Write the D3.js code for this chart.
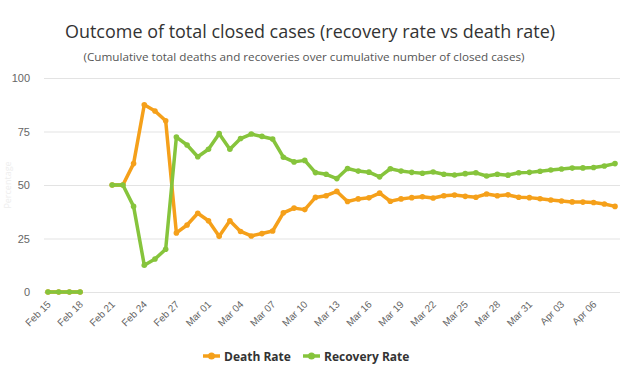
<!DOCTYPE html>
<html><head><meta charset="utf-8">
<script src="https://cdn.jsdelivr.net/npm/d3@7"></script>
<style>body{margin:0;background:#fff;}svg{display:block;font-family:"Open Sans",Lato,sans-serif;}</style>
</head><body>
<svg id="chart" width="635" height="374"></svg>
<script>
const dates = ["2020-02-15","2020-02-16","2020-02-17","2020-02-18","2020-02-19","2020-02-20","2020-02-21","2020-02-22","2020-02-23","2020-02-24","2020-02-25","2020-02-26","2020-02-27","2020-02-28","2020-02-29","2020-03-01","2020-03-02","2020-03-03","2020-03-04","2020-03-05","2020-03-06","2020-03-07","2020-03-08","2020-03-09","2020-03-10","2020-03-11","2020-03-12","2020-03-13","2020-03-14","2020-03-15","2020-03-16","2020-03-17","2020-03-18","2020-03-19","2020-03-20","2020-03-21","2020-03-22","2020-03-23","2020-03-24","2020-03-25","2020-03-26","2020-03-27","2020-03-28","2020-03-29","2020-03-30","2020-03-31","2020-04-01","2020-04-02","2020-04-03","2020-04-04","2020-04-05","2020-04-06","2020-04-07","2020-04-08"];
const deathRate = [0,0,0,0,null,null,50,50,60,87.5,84.6,80,27.6,31.3,36.8,33.3,26,33.3,28.3,26.2,27.3,28.5,37,39.2,38.5,44.2,45,47,42.3,43.5,44,46.2,42.4,43.5,44.1,44.5,43.9,45,45.3,44.7,44.3,45.8,45,45.4,44.3,44.1,43.6,43,42.5,42.1,42,41.8,41.1,40];
const recoveryRate = [0,0,0,0,null,null,50,50,40,12.5,15.4,20,72.4,68.7,63.2,66.7,74,66.7,71.7,73.8,72.7,71.5,63,60.8,61.5,55.8,55,53,57.7,56.5,56,53.8,57.6,56.5,55.9,55.5,56.1,55,54.7,55.3,55.7,54.2,55,54.6,55.7,55.9,56.4,57,57.5,57.9,58,58.2,58.9,60];
const yTicks = [0,25,50,75,100];
const xTickLabels = ["Feb 15","Feb 18","Feb 21","Feb 24","Feb 27","Mar 01","Mar 04","Mar 07","Mar 10","Mar 13","Mar 16","Mar 19","Mar 22","Mar 25","Mar 28","Mar 31","Apr 03","Apr 06"];
const seriesNames = ["Death Rate","Recovery Rate"];
const colors = ["#f5a01a","#86c43c"];

const svg = d3.select("#chart");
const parse = d3.timeParse("%Y-%m-%d");
const xDates = dates.map(parse);
const x = d3.scaleTime().domain([xDates[0], xDates[xDates.length-1]]).range([48, 615]);
const y = d3.scaleLinear().domain([0,100]).range([292, 78]);

// title
svg.append("text").attr("x",310).attr("y",38).attr("text-anchor","middle")
  .attr("font-size",19).attr("fill","#333").attr("textLength",490).attr("lengthAdjust","spacingAndGlyphs")
  .text("Outcome of total closed cases (recovery rate vs death rate)");
svg.append("text").attr("x",304).attr("y",61).attr("text-anchor","middle")
  .attr("font-size",11).attr("fill","#555").attr("textLength",441).attr("lengthAdjust","spacingAndGlyphs")
  .text("(Cumulative total deaths and recoveries over cumulative number of closed cases)");

// faint y-axis title
svg.append("text").attr("transform","translate(11,185) rotate(-90)").attr("text-anchor","middle")
  .attr("font-size",9).attr("fill","#eeeeee").text("Percentage");

// grid + y axis
const yAxis = d3.axisLeft(y).tickValues(yTicks).tickSize(-(620-44)).tickPadding(14);
const gy = svg.append("g").attr("transform","translate(44,0)").call(yAxis);
gy.select(".domain").remove();
gy.selectAll(".tick line").attr("stroke","#e3e3e3");
gy.selectAll(".tick text").attr("font-size",11).attr("fill","#666").attr("dy","0.35em");

// x axis
const tickDates = xTickLabels.map(s => d3.timeParse("%b %d %Y")(s + " 2020"));
const xAxis = d3.axisBottom(x).tickValues(tickDates).tickFormat(d3.timeFormat("%b %d")).tickSize(0).tickPadding(0);
const gx = svg.append("g").attr("transform","translate(0,292)").call(xAxis);
gx.select(".domain").remove();
gx.selectAll(".tick text").attr("font-size",10).attr("fill","#666")
  .attr("text-anchor","end").attr("dy",0).attr("transform","translate(3,13) rotate(-45)");

// lines
const seriesData = [deathRate, recoveryRate];
seriesData.forEach((vals, i) => {
  const pts = vals.map((v, j) => ({d: xDates[j], v}));
  const line = d3.line().defined(p => p.v !== null).x(p => x(p.d)).y(p => y(p.v));
  svg.append("path").datum(pts).attr("d", line).attr("fill","none")
    .attr("stroke", colors[i]).attr("stroke-width",3.5).attr("stroke-linejoin","round");
  svg.append("g").selectAll("circle").data(pts.filter(p => p.v !== null)).join("circle")
    .attr("cx", p => x(p.d)).attr("cy", p => y(p.v)).attr("r",2.8).attr("fill", colors[i]);
});

// legend
const legendX = [203, 303];
seriesNames.forEach((name, i) => {
  const g = svg.append("g").attr("transform", `translate(${legendX[i]},356)`);
  g.append("line").attr("x1",0).attr("x2",17).attr("y1",0).attr("y2",0).attr("stroke",colors[i]).attr("stroke-width",3.5);
  g.append("circle").attr("cx",8.5).attr("cy",0).attr("r",3.5).attr("fill",colors[i]);
  g.append("text").attr("x",21).attr("y",4.5).attr("font-size",12).attr("font-weight","bold").attr("fill","#333").text(name);
});
</script>
</body></html>
